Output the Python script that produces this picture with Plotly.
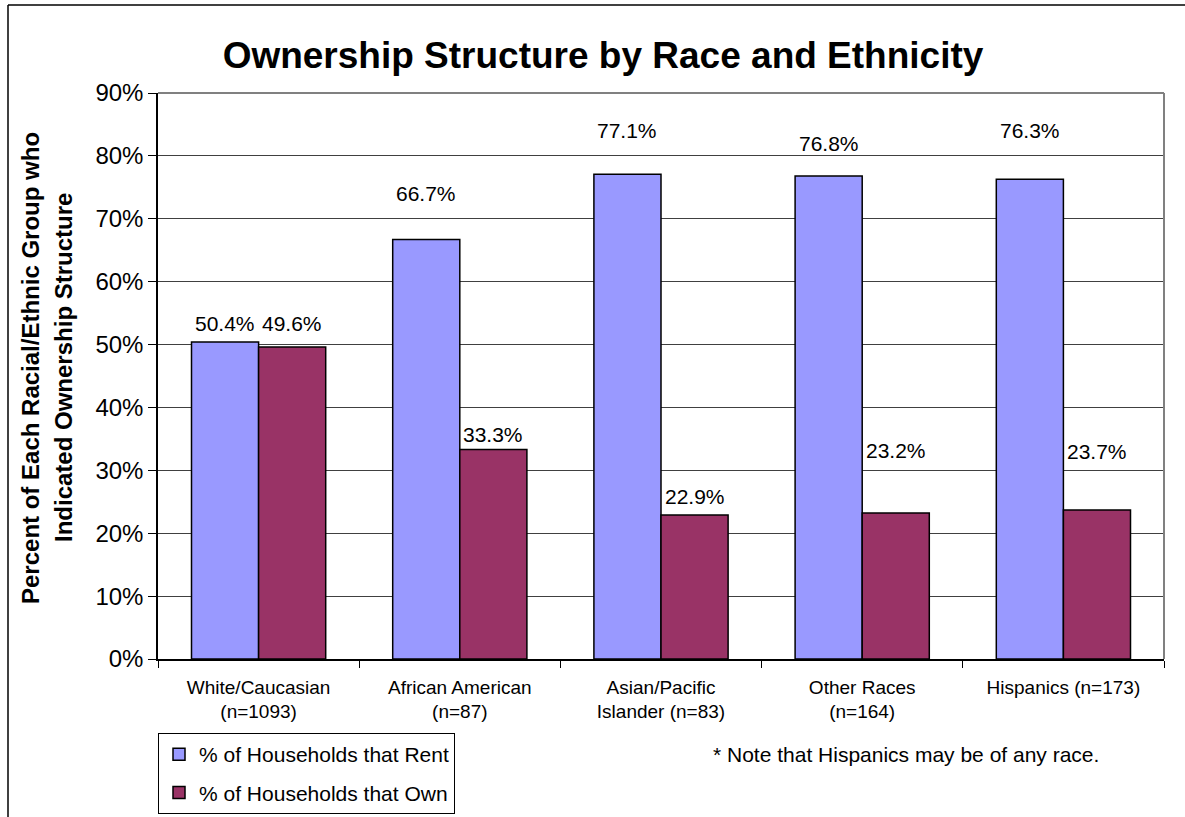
import plotly.graph_objects as go

categories = ["White/Caucasian<br>(n=1093)", "African American<br>(n=87)",
              "Asian/Pacific<br>Islander (n=83)", "Other Races<br>(n=164)",
              "Hispanics (n=173)"]
rent = [50.4, 66.7, 77.1, 76.8, 76.3]
own = [49.6, 33.3, 22.9, 23.2, 23.7]
rent_label_shift = [19, 46, 44, 33, 49]
own_label_shift = [24, 15, 18, 63, 58]

FONT = "Arial, Liberation Sans, sans-serif"
W, H = 1185, 817
L, R, T, B = 158, 21, 93, 158
pw, ph = W - L - R, H - T - B

def px(x):
    return (x - L) / pw

def py(y):
    return (H - B - y) / ph

fig = go.Figure()
fig.add_bar(x=categories, y=rent, name="% of Households that Rent",
            marker=dict(color="#9999FF", line=dict(color="black", width=1.5)),
            legendgroup="a")
fig.add_bar(x=categories, y=own, name="% of Households that Own",
            marker=dict(color="#993366", line=dict(color="black", width=1.5)),
            legendgroup="b")

ann = []
for i, c in enumerate(categories):
    ann.append(dict(x=c, y=rent[i], text=f"{rent[i]:.1f}%", xshift=-pw / 5 / 6,
                    yshift=rent_label_shift[i], showarrow=False, yanchor="middle",
                    font=dict(size=21, color="black", family=FONT)))
    ann.append(dict(x=c, y=own[i], text=f"{own[i]:.1f}%", xshift=pw / 5 / 6,
                    yshift=own_label_shift[i], showarrow=False, yanchor="middle",
                    font=dict(size=21, color="black", family=FONT)))

ann.append(dict(xref="paper", yref="paper", x=px(30), y=py(368),
                text="<b>Percent of Each Racial/Ethnic Group who</b>", textangle=-90,
                showarrow=False, xanchor="center", yanchor="middle",
                font=dict(size=24, color="black", family=FONT)))
ann.append(dict(xref="paper", yref="paper", x=px(63), y=py(368),
                text="<b>Indicated Ownership Structure</b>", textangle=-90,
                showarrow=False, xanchor="center", yanchor="middle",
                font=dict(size=24, color="black", family=FONT)))
ann.append(dict(xref="paper", yref="paper", x=px(906), y=py(754),
                text="* Note that Hispanics may be of any race.",
                showarrow=False, xanchor="center", yanchor="middle",
                font=dict(size=21, color="black", family=FONT)))

shapes = [
    dict(type="line", xref="paper", yref="paper", x0=0, x1=1, y0=1, y1=1,
         line=dict(color="#808080", width=2)),
    dict(type="line", xref="paper", yref="paper", x0=1, x1=1, y0=0, y1=1,
         line=dict(color="#808080", width=2)),
    dict(type="line", xref="paper", yref="paper", x0=px(8), x1=px(1190), y0=py(5), y1=py(5),
         line=dict(color="black", width=1.5)),
    dict(type="line", xref="paper", yref="paper", x0=px(8), x1=px(8), y0=py(5), y1=py(830),
         line=dict(color="black", width=1.5)),
]

fig.update_layout(
    width=W, height=H,
    margin=dict(l=L, r=R, t=T, b=B, autoexpand=False),
    paper_bgcolor="white", plot_bgcolor="white",
    barmode="group", bargap=0.333, bargroupgap=0,
    font=dict(family=FONT, size=19, color="black"),
    title=dict(text="<b>Ownership Structure by Race and Ethnicity</b>",
               x=603 / W, y=1 - 55 / H, xanchor="center", yanchor="middle",
               font=dict(size=37, color="black", family=FONT)),
    xaxis=dict(showline=True, linecolor="black", linewidth=1.5, ticks="outside",
               tickson="boundaries", ticklen=7, tickcolor="black",
               ticklabelstandoff=10,
               tickfont=dict(size=19, family=FONT, color="black"), showgrid=False),
    yaxis=dict(range=[0, 90], dtick=10, ticksuffix="%", showline=True,
               linecolor="black", linewidth=1.5, ticks="outside", ticklen=8,
               tickcolor="black", showgrid=True, gridcolor="#404040", gridwidth=1,
               tickfont=dict(size=24, family=FONT, color="black"), zeroline=False),
    legend=dict(x=0, y=py(733), xanchor="left", yanchor="top",
                bordercolor="black", borderwidth=1, bgcolor="white",
                traceorder="grouped", tracegroupgap=8,
                font=dict(size=21, family=FONT, color="black")),
    annotations=ann, shapes=shapes,
)

fig.write_html("out.html", config={"displayModeBar": False},
               post_script="document.body.style.margin='0px';")
